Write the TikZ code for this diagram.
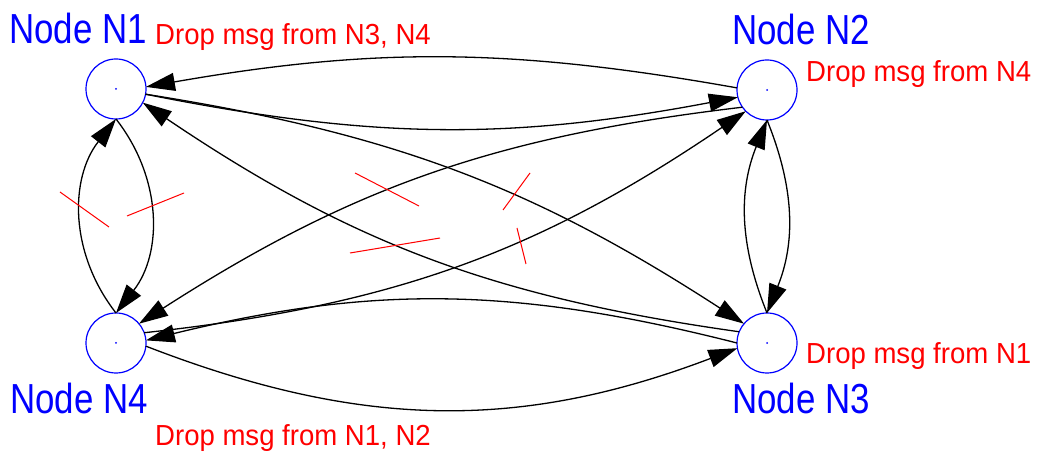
\documentclass[tikz,border=0pt]{standalone}
\usepackage{fontspec}
\usetikzlibrary{arrows.meta}
\newfontfamily\nodefont[FakeStretch=0.83]{Liberation Sans}
\newfontfamily\dropfont[FakeStretch=0.95]{Liberation Sans}
\begin{document}
\begin{tikzpicture}[x=1pt,y=1pt,
  station/.style={circle, draw=blue, line width=1.2pt, minimum size=60pt, inner sep=0pt, outer sep=0pt},
  edge/.style={line width=1.3pt, -{Triangle[length=29pt,width=18pt]}},
  xmark/.style={red, line width=1pt},
  nodelabel/.style={text=blue, font=\nodefont\fontsize{42pt}{42pt}\selectfont, inner sep=0pt, anchor=base west},
  droplabel/.style={text=red, font=\dropfont\fontsize{29pt}{29pt}\selectfont, inner sep=0pt, anchor=base west}]
\useasboundingbox (0,0) rectangle (1040,454);
% stations
\node[station] (N1) at (116,365) {};
\node[station] (N2) at (767,364) {};
\node[station] (N3) at (767,111) {};
\node[station] (N4) at (116,111) {};
\foreach \n in {N1,N2,N3,N4} \fill[blue] (\n.center) circle (1pt);
% labels
\node[nodelabel] (t1) at (9,410) {Node N1};
\node[nodelabel] (t2) at (732,409) {Node N2};
\node[nodelabel] (t3) at (732,40) {Node N3};
\node[nodelabel] (t4) at (10,40) {Node N4};
\node[droplabel] (d1) at (155,409) {Drop msg from N3, N4};
\node[droplabel] (d2) at (806,372) {Drop msg from N4};
\node[droplabel] (d3) at (806,90) {Drop msg from N1};
\node[droplabel] (d4) at (155,8) {Drop msg from N1, N2};
% top pair
\draw[edge] (N2.176) to[bend right=10] (N1.4);
\draw[edge] (N1.-10) to[bend right=11] (N2.194);
% bottom pair
\draw[edge] (N4.-6) to[bend right=21] (N3.190);
\draw[edge] (N3.180) to[bend right=14] (N4.5);
% left pair
\draw[edge] (N4.90) to[bend left=38] (N1.270);
\draw[edge] (N1.270) to[bend left=38] (N4.90);
% right pair
\draw[edge] (N3.90) to[bend left=22] (N2.270);
\draw[edge] (N2.270) to[bend left=22] (N3.90);
% diagonals
\draw[edge] (N1.-10) to[bend left=12] (N3.140);
\draw[edge] (N3.158) to[bend left=13] (N1.-27);
\draw[edge] (N2.215) to[bend right=13] (N4.40);
\draw[edge] (N4.20) to[bend right=14] (N2.225);
% dropped-message marks
\draw[xmark] (60,262) -- (109,227);
\draw[xmark] (127,238) -- (184,261);
\draw[xmark] (355,281) -- (419,248);
\draw[xmark] (350,201) -- (440,216);
\draw[xmark] (503,244) -- (530,281);
\draw[xmark] (517,226) -- (526,190);
\end{tikzpicture}
\end{document}
